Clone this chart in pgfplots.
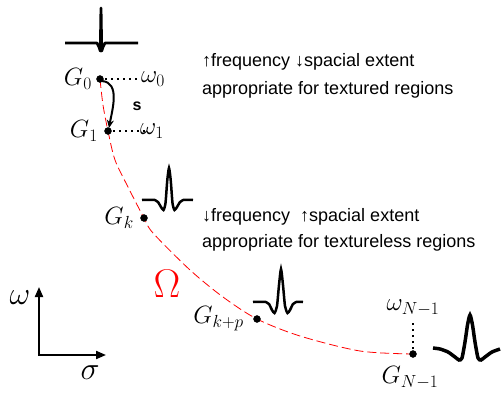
\RequirePackage{fix-cm}
\documentclass[border=0pt]{standalone}
\usepackage[no-math]{fontspec}
\setmainfont{Liberation Sans}
\usepackage{pgfplots}
\pgfplotsset{compat=1.18}
\usetikzlibrary{arrows.meta}

\newcommand{\fs}[1]{\fontsize{#1}{#1}\selectfont}

\begin{document}
\begin{tikzpicture}
\begin{axis}[
  width=504pt, height=394pt, scale only axis,
  xmin=0, xmax=504, ymin=0, ymax=394, y dir=reverse,
  hide axis, clip=false,
]
\path (axis cs:0,0) rectangle (axis cs:504,394);

% scale-space trajectory Omega
\addplot[red, line width=0.8pt, dash pattern=on 9pt off 4pt, smooth, tension=0.5]
  coordinates {(100,79) (103,105) (108,131) (115,160) (128,187) (144,218)
               (153,233) (190,270) (223,297) (257,319) (300,336) (360,351) (413,354)};

% filter samples along the trajectory
\addplot[only marks, mark=*, mark size=3.5pt, black]
  coordinates {(100,79) (108,131) (144,218) (257,319) (413,354)};

% filter profiles
\addplot[black, line width=2.8pt, line join=round]
  coordinates {(65,43) (97,43) (99,47) (100.3,51) (101,8) (101.7,51) (103,47) (105,43) (138,43)};
\addplot[black, line width=2.5pt, smooth, tension=0.4]
  coordinates {(142,200) (155,200) (158,202) (161,207) (163.5,210) (165.5,203) (167.3,180) (169,168)
               (170.7,180) (172.5,203) (174.5,210) (177,207) (180,202) (183,200) (193,200)};
\addplot[black, line width=2.5pt, smooth, tension=0.4]
  coordinates {(253,302) (266,302) (269,304) (272,310) (274.5,313) (277,306) (279,285) (281,269)
               (283,285) (285,306) (287.5,313) (290,310) (293,304) (296,302) (303,302)};
\addplot[black, line width=3.5pt, smooth, tension=0.4]
  coordinates {(433,348) (440,349) (448,352) (455,357) (459,360) (462,358) (465,342) (467.5,325)
               (470,315) (472.5,325) (475,342) (478,358) (481,360) (485,357) (492,352) (500,349)};

% frequency guides
\draw[black, line width=2pt, dash pattern=on 2pt off 4pt] (axis cs:105,79) -- (axis cs:140,79);
\draw[black, line width=2pt, dash pattern=on 2pt off 4pt] (axis cs:113,131) -- (axis cs:148,131);
\draw[black, line width=2pt, dash pattern=on 2pt off 4pt] (axis cs:413,349) -- (axis cs:413,322);

% step s
\draw[black, line width=2pt, -{Stealth[length=8pt,width=7pt]}]
  (axis cs:102,81) to[out=-5, in=80] (axis cs:109,128);
\node at (axis cs:137,106) {\fs{16}\textbf{s}};

% labels
\node[anchor=east, inner sep=1pt] at (axis cs:93,79) {\fs{25}$G_0$};
\node[anchor=west, inner sep=1pt] at (axis cs:140,79) {\fs{25}$\omega_0$};
\node[anchor=east, inner sep=1pt] at (axis cs:99,131) {\fs{25}$G_1$};
\node[anchor=west, inner sep=1pt] at (axis cs:139,131) {\fs{25}$\omega_1$};
\node[anchor=east, inner sep=1pt] at (axis cs:135,218) {\fs{25}$G_k$};
\node[anchor=east, inner sep=1pt] at (axis cs:245,319) {\fs{25}$G_{k+p}$};
\node[inner sep=1pt] at (axis cs:413,308) {\fs{25}$\omega_{N-1}$};
\node[inner sep=1pt] at (axis cs:410,378) {\fs{25}$G_{N-1}$};
\node[red, inner sep=0pt] at (axis cs:167,284) {\fs{40}$\Omega$};

% description text
\node[anchor=base west, inner sep=0pt] at (axis cs:202,66) {\fs{18}↑frequency ↓spacial extent};
\node[anchor=base west, inner sep=0pt] at (axis cs:202,94) {\fs{18}appropriate for textured regions};
\node[anchor=base west, inner sep=0pt] at (axis cs:202,221) {\fs{18}↓frequency \ ↑spacial extent};
\node[anchor=base west, inner sep=0pt] at (axis cs:202,247) {\fs{18}appropriate for textureless regions};

% sigma-omega axes
\draw[black, line width=2pt, -{Triangle[length=10pt,width=8pt]}] (axis cs:39,355) -- (axis cs:39,287);
\draw[black, line width=2pt, -{Triangle[length=10pt,width=8pt]}] (axis cs:38,355) -- (axis cs:106,355);
\node at (axis cs:20,298) {\fs{32}$\omega$};
\node at (axis cs:90,373) {\fs{32}$\sigma$};
\end{axis}
\end{tikzpicture}
\end{document}
